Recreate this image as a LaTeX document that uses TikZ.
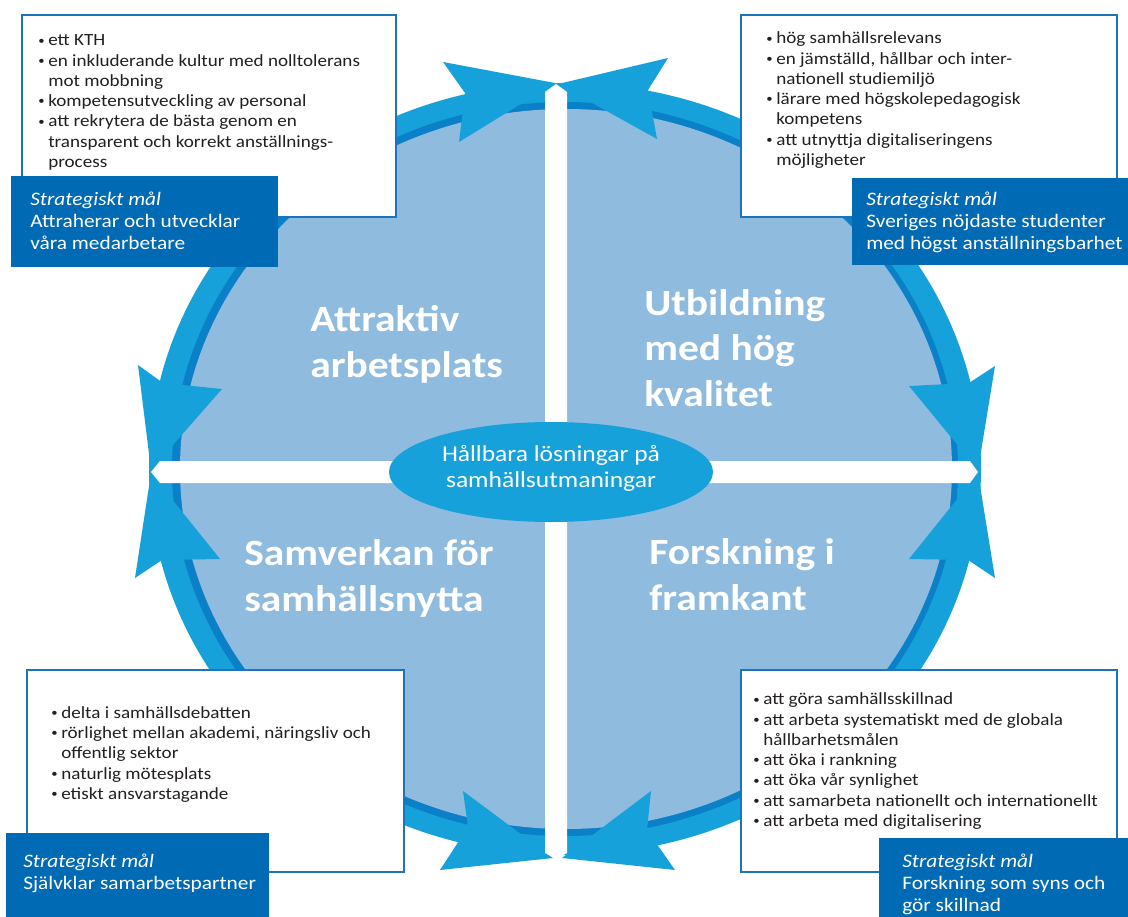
\documentclass[tikz,border=0pt]{standalone}
\usepackage{fontspec}
\setmainfont{Carlito}[FakeStretch=1.12]
\usepackage{xcolor}
\usepackage{tikz}
\usetikzlibrary{shapes.geometric}

\definecolor{ringblue}{HTML}{17A1DA}
\definecolor{ringdark}{HTML}{0A80C8}
\definecolor{discblue}{HTML}{8EBBDE}
\definecolor{goalblue}{HTML}{006AB4}
\definecolor{boxline}{HTML}{1C74BD}
\definecolor{bodytext}{HTML}{231F20}

\newcommand{\itm}{\makebox[7.5pt][l]{\raisebox{1.3pt}{\fontsize{8.5}{8.5}\selectfont\textbullet}}}
\newcommand{\cnt}{\hspace*{7.5pt}}

\begin{document}
\begin{tikzpicture}[x=0.75pt, y=-0.75pt,
  head/.style={fill=ringblue},
  bar/.style={fill=white},
  listbox/.style={fill=white, draw=boxline, line width=2pt},
  goalbox/.style={fill=goalblue},
  body/.style={anchor=base west, inner sep=0pt, align=left, text=bodytext,
    font=\fontsize{12.8}{15.2}\selectfont},
  goal/.style={anchor=base west, inner sep=0pt, align=left, text=white,
    font=\fontsize{14.3}{16.5}\selectfont},
  theme/.style={anchor=base west, inner sep=0pt, align=left, text=white,
    font=\fontsize{27.8}{34}\selectfont\bfseries}]
  \useasboundingbox (0,0) rectangle (1128,917);
  % Ring and disc
  \fill[ringblue] (565,469) ellipse [x radius=416, y radius=386];
  \fill[ringdark] (565,469) ellipse [x radius=393, y radius=367];
  \fill[discblue] (566,469) ellipse [x radius=386, y radius=360];
  % Arrowheads: top pair
  \fill[head] (555,83) -- (443,62) -- (465,93) -- (459,142) -- cycle;
  \fill[head] (558,84) -- (668,58) -- (648,90) -- (657,139) -- cycle;
  % Arrowheads: left pair
  \fill[head] (151,470) -- (138,365) -- (163,383) -- (222,389) -- cycle;
  \fill[head] (151,473) -- (135,578) -- (162,560) -- (220,559) -- cycle;
  % Arrowheads: right pair
  \fill[head] (978,470) -- (995,366) -- (969,383) -- (909,386) -- cycle;
  \fill[head] (978,473) -- (995,578) -- (968,560) -- (909,559) -- cycle;
  % Arrowheads: bottom pair
  \fill[head] (553,858) -- (463,791) -- (468,827) -- (440,870) -- cycle;
  \fill[head] (562,858) -- (651,791) -- (647,830) -- (675,870) -- cycle;
  % Cross of white bars
  \fill[bar] (545,92) -- (556,84) -- (567,92) -- (567,853) -- (556,859) -- (545,853) -- cycle;
  \fill[bar] (160,461) -- (970,461) -- (978,472) -- (970,483) -- (160,483) -- (151,472) -- cycle;
  % Centre
  \node[ellipse, fill=ringblue, minimum width=243pt, minimum height=75pt, inner sep=0pt]
    (hub) at (551,472) {};
  \node[text=white, align=center, inner sep=0pt, font=\fontsize{17.1}{20.5}\selectfont]
    (hubText) at (551,468) {Hållbara lösningar på\\[-1pt]samhällsutmaningar};
  % Quadrant titles (anchored at the last line)
  \node[theme] (work) at (310,377) {Attraktiv\\arbetsplats};
  \node[theme] (edu) at (644,406) {Utbildning\\med hög\\kvalitet};
  \node[theme] (coop) at (244,611) {Samverkan för\\samhällsnytta};
  \node[theme] (res) at (649,610) {Forskning i\\framkant};
  % Top left
  \filldraw[listbox] (22,15) rectangle (396,217);
  \node[body] (workList) at (38,167.5) {\itm ett KTH\\
    \itm en inkluderande kultur med nolltolerans\\
    \cnt mot mobbning\\
    \itm kompetensutveckling av personal\\
    \itm att rekrytera de bästa genom en\\
    \cnt transparent och korrekt anställnings-\\
    \cnt process};
  \fill[goalbox] (11,176) rectangle (278,267);
  \node[goal] (workGoal) at (30,249) {\textit{Strategiskt mål}\\Attraherar och utvecklar\\våra medarbetare};
  % Top right
  \filldraw[listbox] (741,15) rectangle (1117,217);
  \node[body] (eduList) at (766,165.5) {\itm hög samhällsrelevans\\
    \itm en jämställd, hållbar och inter-\\
    \cnt nationell studiemiljö\\
    \itm lärare med högskolepedagogisk\\
    \cnt kompetens\\
    \itm att utnyttja digitaliseringens\\
    \cnt möjligheter};
  \fill[goalbox] (852,178) rectangle (1128,265);
  \node[goal] (eduGoal) at (866,249) {\textit{Strategiskt mål}\\Sveriges nöjdaste studenter\\med högst anställningsbarhet};
  % Bottom left
  \filldraw[listbox] (27,670) rectangle (404,872);
  \node[body] (coopList) at (51,799.5) {\itm delta i samhällsdebatten\\
    \itm rörlighet mellan akademi, näringsliv och\\
    \cnt offentlig sektor\\
    \itm naturlig mötesplats\\
    \itm etiskt ansvarstagande};
  \fill[goalbox] (6,833) rectangle (269,917);
  \node[goal] (coopGoal) at (23,889) {\textit{Strategiskt mål}\\Självklar samarbetspartner};
  % Bottom right
  \filldraw[listbox] (741,670) rectangle (1117,872);
  \node[body] (resList) at (753,826.5) {\itm att göra samhällsskillnad\\
    \itm att arbeta systematiskt med de globala\\
    \cnt hållbarhetsmålen\\
    \itm att öka i rankning\\
    \itm att öka vår synlighet\\
    \itm att samarbeta nationellt och internationellt\\
    \itm att arbeta med digitalisering};
  \fill[goalbox] (879,838) rectangle (1128,917);
  \node[goal] (resGoal) at (902,911) {\textit{Strategiskt mål}\\Forskning som syns och\\gör skillnad};
\end{tikzpicture}
\end{document}
